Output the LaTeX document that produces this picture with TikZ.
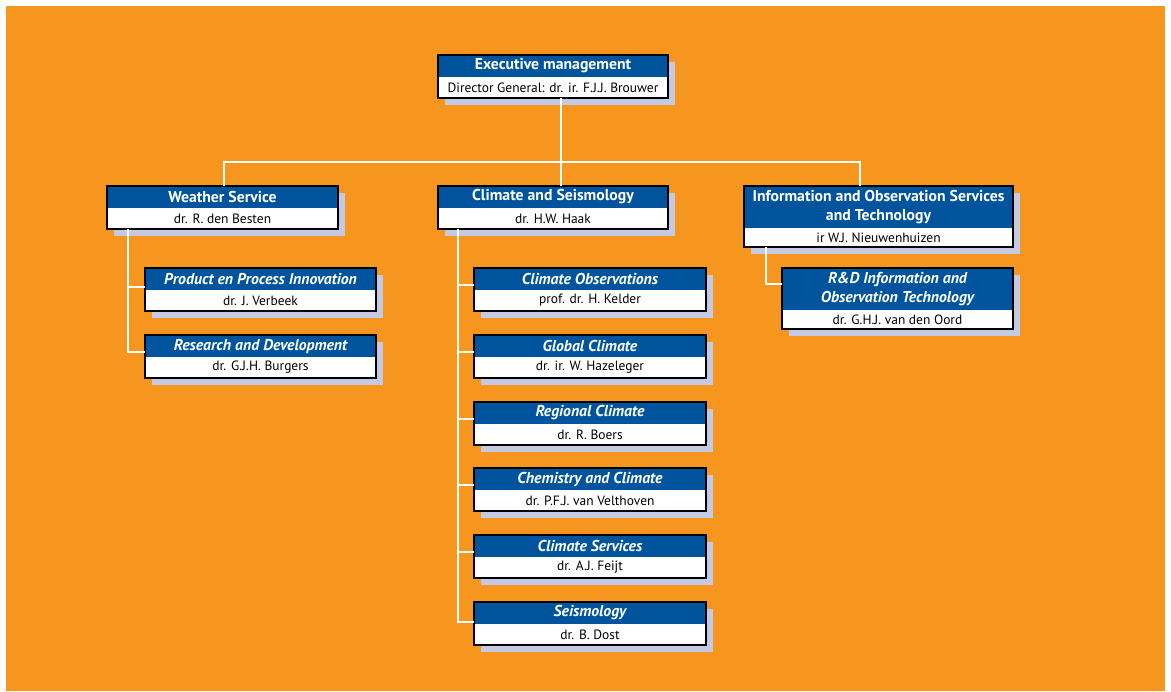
\documentclass[tikz,border=0pt]{standalone}
\usepackage{fontspec}
\setmainfont{PT Sans}
\definecolor{bgorange}{RGB}{247,150,30}
\definecolor{hdrblue}{RGB}{0,84,158}
\definecolor{shadowc}{RGB}{196,201,228}
\tikzset{
  hdr/.style={fill=hdrblue,text=white,inner sep=0pt,outer sep=0pt,font=\fontsize{11.8}{14.2}\selectfont\bfseries,align=center},
  hdrit/.style={font=\fontsize{11.8}{14.2}\selectfont\bfseries\itshape},
  nm/.style={fill=white,text=black,inner sep=0pt,outer sep=0pt,font=\fontsize{10.1}{12}\selectfont},
  boxline/.style={draw=black,line width=1.1pt},
  conn/.style={draw=white,line width=1.7pt},
}
\newcommand\obox[9]{%
  \fill[shadowc] (#2+7,#3+7) rectangle (#2+7+#4,#3+7+#5+#6);
  \node[hdr,#7,minimum width=#4*0.75pt,minimum height=#5*0.75pt,anchor=north west] (#1) at (#2,#3) {#8};
  \node[nm,minimum width=#4*0.75pt,minimum height=#6*0.75pt,anchor=north west] (#1p) at (#1.south west) {#9};
  \draw[boxline] (#1.north west) rectangle (#1p.south east);
}
\begin{document}
\begin{tikzpicture}[x=0.75pt,y=-0.75pt]
\useasboundingbox (0,0) rectangle (1171,692);
\fill[bgorange] (6,6) rectangle (1165,691);
\coordinate (bus) at (561,162);
\coordinate (busL) at (224,162);
\coordinate (busR) at (860,162);
\coordinate (wsT) at (128,229);
\coordinate (csT) at (458,229);
\coordinate (ioT) at (766,247);
% boxes
\obox{exec}{438}{55}{230}{22}{21}{}{Executive management}{Director General: dr. ir. F.J.J. Brouwer}
\obox{ws}{107}{186}{231}{22}{21}{}{Weather Service}{dr. R. den Besten}
\obox{cs}{438}{186}{230}{22}{21}{}{Climate and Seismology}{dr. H.W. Haak}
\obox{io}{744}{186}{269}{42}{19}{}{Information and Observation Services\\and Technology}{ir W.J. Nieuwenhuizen}
\obox{ppi}{145}{268}{231}{22}{21}{hdrit}{Product en Process Innovation}{dr. J. Verbeek}
\obox{rd}{145}{335}{231}{22}{21}{hdrit}{Research and Development}{dr. G.J.H. Burgers}
\obox{co}{474}{268}{232}{22}{21}{hdrit}{Climate Observations}{prof. dr. H. Kelder}
\obox{gc}{474}{335}{232}{22}{21}{hdrit}{Global Climate}{dr. ir. W. Hazeleger}
\obox{rc}{474}{402}{232}{22}{21}{hdrit}{Regional Climate}{dr. R. Boers}
\obox{cc}{474}{468}{232}{22}{21}{hdrit}{Chemistry and Climate}{dr. P.F.J. van Velthoven}
\obox{csv}{474}{535}{232}{22}{21}{hdrit}{Climate Services}{dr. A.J. Feijt}
\obox{se}{474}{602}{232}{22}{21}{hdrit}{Seismology}{dr. B. Dost}
\obox{rdi}{782}{268}{231}{42}{19}{hdrit}{R\&D Information and\\Observation Technology}{dr. G.H.J. van den Oord}
% branch points
\foreach \n/\d in {ppi/14.25pt,rd/12.75pt,co/12.75pt,gc/12.75pt,rc/12.75pt,cc/12.75pt,csv/12.75pt,se/15pt,rdi/12pt}
  \coordinate (\n b) at ([yshift=-\d]\n.north west);
% connector lines
\draw[conn] (execp.south -| bus) -- (bus);
\draw[conn] (busL |- ws.north) -- (busL) -- (busR) -- (busR |- io.north);
\draw[conn] (bus) -- (bus |- cs.north);
\draw[conn] (wsT) -- (wsT |- rdb) -- (rdb);
\draw[conn] (wsT |- ppib) -- (ppib);
\draw[conn] (csT) -- (csT |- seb) -- (seb);
\foreach \n in {co,gc,rc,cc,csv}
  \draw[conn] (csT |- \n b) -- (\n b);
\draw[conn] (ioT) -- (ioT |- rdib) -- (rdib);
\end{tikzpicture}
\end{document}
